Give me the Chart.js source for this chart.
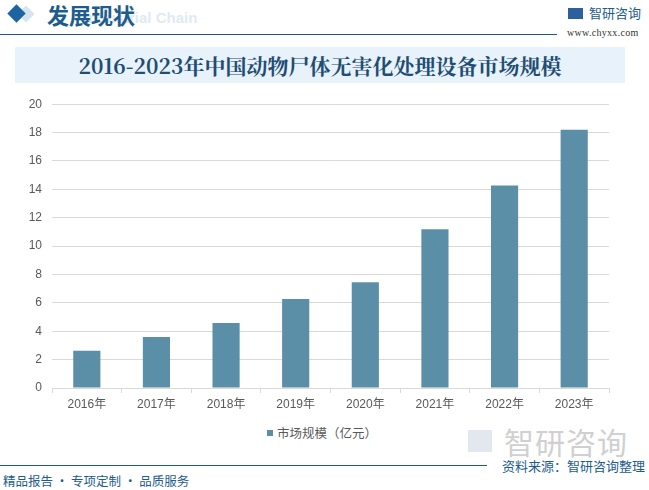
<!DOCTYPE html>
<html><head><meta charset="utf-8">
<script src="https://cdn.jsdelivr.net/npm/chart.js@4"></script>
<style>
html,body{margin:0;padding:0;width:649px;height:490px;overflow:hidden;background:#fff;font-family:"Noto Sans CJK SC","Noto Sans",sans-serif;}
.abs{position:absolute;white-space:nowrap;}
#hdr{left:47px;top:-2px;font-size:22px;font-weight:bold;color:#1d5c8c;}
#chain{left:84px;top:9px;font-size:15px;font-weight:bold;color:#dfeaf3;font-family:"Liberation Sans",sans-serif;}
#diamond2{left:20px;top:8px;width:12px;height:12px;background:#d5e4ef;transform:rotate(45deg);}
#diamond{left:10px;top:7px;width:13px;height:13px;background:#1d64a0;transform:rotate(45deg);}
#hline{left:0;top:34px;width:557px;height:1px;background:#1d5c8c;}
#icon{left:568px;top:8px;width:15px;height:11px;background:#2d5f9e;}
#logo{left:589px;top:3px;font-size:13px;color:#1d5c8c;}
#url{left:567px;top:27px;font-size:10px;color:#333;font-family:"Liberation Serif",serif;letter-spacing:0.3px;}
#tbox{left:15px;top:47px;width:610px;height:36px;background:#e7f2fa;}
#title{left:15px;top:47px;width:610px;height:36px;line-height:36px;text-align:center;font-size:21px;font-weight:bold;color:#1f4d73;font-family:"Noto Serif CJK SC","Noto Sans CJK SC",serif;}
#leg{left:267px;top:423px;font-size:12.5px;color:#595959;}
#leg span{display:inline-block;width:6px;height:6px;background:#5b8fa8;margin-right:4px;vertical-align:2px;}
#wmicon{left:468px;top:430px;width:24px;height:22px;background:#e3e8ee;}
#wm{left:504px;top:419px;font-size:30px;color:#d0d0d0;letter-spacing:1px;}
#fline{left:0;top:465px;width:487px;height:1px;background:#1d5c8c;}
#src{left:502px;top:456px;font-size:13px;color:#1d5c8c;}
#slogan{left:3px;top:471px;font-size:12.5px;color:#1d5c8c;}
#wrap{left:0;top:87px;width:620px;height:333px;}
</style></head>
<body>
<div class="abs" id="diamond2"></div>
<div class="abs" id="diamond"></div>
<div class="abs" id="chain">Industrial Chain</div>
<div class="abs" id="hdr">发展现状</div>
<div class="abs" id="hline"></div>
<div class="abs" id="icon"></div>
<div class="abs" id="logo">智研咨询</div>
<div class="abs" id="url">www.chyxx.com</div>
<div class="abs" id="tbox"></div>
<div class="abs" id="title">2016-2023年中国动物尸体无害化处理设备市场规模</div>
<div class="abs" id="wmicon"></div>
<div class="abs" id="wm">智研咨询</div>
<div class="abs" id="wrap"><canvas id="c" width="620" height="333"></canvas></div>
<div class="abs" id="leg"><span></span>市场规模（亿元）</div>
<div class="abs" id="fline"></div>
<div class="abs" id="src">资料来源：智研咨询整理</div>
<div class="abs" id="slogan">精品报告 · 专项定制 · 品质服务</div>
<script>
const categories = ["2016年","2017年","2018年","2019年","2020年","2021年","2022年","2023年"];
const marketSize = [2.62, 3.6, 4.58, 6.27, 7.45, 11.18, 14.27, 18.2];
const seriesName = "市场规模（亿元）";
const yTicks = [0,2,4,6,8,10,12,14,16,18,20];

new Chart(document.getElementById('c'), {
  type: 'bar',
  data: { labels: categories, datasets: [{ label: seriesName, data: marketSize, backgroundColor: '#5b8fa8', barPercentage: 0.39, categoryPercentage: 1.0 }] },
  options: {
    responsive: false, animation: false,
    layout: { padding: { left: 0, right: 11, top: 9, bottom: 0 } },
    plugins: { legend: { display: false }, tooltip: { enabled: false } },
    scales: {
      x: {
        grid: { offset: true, drawOnChartArea: false, color: '#d9d9d9', tickLength: 5 },
        border: { color: '#d9d9d9' },
        ticks: { color: '#595959', font: { size: 12, family: '"Liberation Sans","Noto Sans CJK SC"' }, padding: 4 },
        afterFit: s => { s.height = 32; }
      },
      y: {
        min: 0, max: 20,
        afterBuildTicks: s => { s.ticks = yTicks.map(v => ({ value: v })); },
        grid: { color: '#d9d9d9', drawTicks: false },
        border: { display: false },
        ticks: { color: '#595959', font: { size: 12, family: '"Liberation Sans"' }, padding: 10 },
        afterFit: s => { s.width = 52; }
      }
    }
  }
});
</script>
</body></html>
